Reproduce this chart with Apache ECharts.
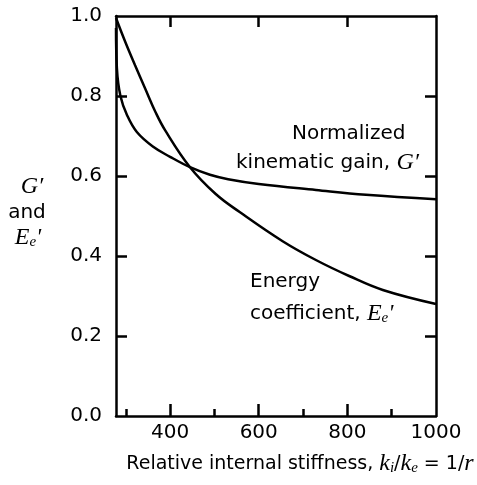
<!DOCTYPE html>
<html>
<head>
<meta charset="utf-8">
<script src="https://cdn.jsdelivr.net/npm/echarts@6/dist/echarts.min.js"></script>
<style>
  html, body { margin: 0; background: #fff; }
  #chart { width: 477px; height: 485px; }
</style>
</head>
<body>
<div id="chart"></div>
<script>
// normalized kinematic gain G'
const gainX = [278, 280, 288, 303, 325, 362, 400, 445, 490, 531, 600, 729, 842, 1000];
const gainY = [0.97, 0.87, 0.80, 0.752, 0.71, 0.673, 0.648, 0.622, 0.603, 0.592, 0.580, 0.565, 0.553, 0.542];

// energy coefficient Ee'
const energyX = [278, 299, 321, 344, 367, 389, 445, 503, 557, 654, 729, 804, 880, 1000];
const energyY = [0.995, 0.935, 0.877, 0.818, 0.76, 0.714, 0.622, 0.555, 0.51, 0.437, 0.39, 0.350, 0.315, 0.28];

// ticks
const xLabels = [400, 600, 800, 1000];
const xMajor = [400, 600, 800];
const xMinor = [300, 500, 700, 900];
const yInner = [0.2, 0.4, 0.6, 0.8];

const sans = 'DejaVu Sans';
const serif = 'Liberation Serif';
const black = { color: '#000', width: 2.5 };
const pair = (xs, ys) => xs.map((x, i) => [x, ys[i]]);

const chart = echarts.init(document.getElementById('chart'));

const xBase = { type: 'value', min: 278, max: 1000, splitLine: { show: false } };
const yBase = { type: 'value', min: 0, max: 1, interval: 0.2, splitLine: { show: false } };

const italic = { fontFamily: serif, fontStyle: 'italic', fontSize: 24 };
const sub = { fontFamily: serif, fontStyle: 'italic', fontSize: 15, verticalAlign: 'bottom', padding: [9, 0, 0, 0] };
const txt = (extra) => Object.assign({ fontFamily: sans, fontSize: 20, fill: '#000', verticalAlign: 'middle' }, extra);

chart.setOption({
  animation: false,
  grid: { left: 116, right: 41, top: 16, bottom: 69 },
  xAxis: [
    Object.assign({}, xBase, {
      position: 'bottom',
      axisLine: { show: true, lineStyle: black },
      axisTick: { show: true, inside: true, length: 12, customValues: xMajor, lineStyle: black },
      axisLabel: { customValues: xLabels, color: '#000', fontFamily: sans, fontSize: 20, margin: 7, formatter: v => String(v) }
    }),
    Object.assign({}, xBase, {
      position: 'bottom',
      axisLine: { show: false },
      axisTick: { show: true, inside: true, length: 7, customValues: xMinor, lineStyle: black },
      axisLabel: { show: false }
    }),
    Object.assign({}, xBase, {
      position: 'top',
      axisLine: { show: true, lineStyle: black },
      axisTick: { show: true, inside: true, length: 11, customValues: xMajor, lineStyle: black },
      axisLabel: { show: false }
    })
  ],
  yAxis: [
    Object.assign({}, yBase, {
      position: 'left',
      axisLine: { show: true, lineStyle: black },
      axisTick: { show: true, inside: true, length: 11, customValues: yInner, lineStyle: black },
      axisLabel: { color: '#000', fontFamily: sans, fontSize: 20, margin: 14, formatter: v => v.toFixed(1) }
    }),
    Object.assign({}, yBase, {
      position: 'right',
      axisLine: { show: true, lineStyle: black },
      axisTick: { show: true, inside: true, length: 11, customValues: yInner, lineStyle: black },
      axisLabel: { show: false }
    })
  ],
  series: [
    {
      name: 'G',
      type: 'line',
      data: pair(gainX, gainY),
      showSymbol: false,
      smooth: 0.4,
      lineStyle: black
    },
    {
      name: 'Ee',
      type: 'line',
      data: pair(energyX, energyY),
      showSymbol: false,
      smooth: 0.4,
      lineStyle: black
    }
  ],
  graphic: [
    // curve labels
    { type: 'text', x: 292, y: 134, style: txt({ text: 'Normalized' }) },
    { type: 'text', x: 236, y: 163, style: txt({ text: 'kinematic gain, {it|G′}', rich: { it: italic } }) },
    { type: 'text', x: 250, y: 282, style: txt({ text: 'Energy' }) },
    { type: 'text', x: 250, y: 314, style: txt({ text: 'coefficient, {it|E}{sub|e}{it|\'}', rich: { it: italic, sub: sub } }) },
    // y title
    { type: 'text', x: 32, y: 187, style: txt({ text: '{it|G′}', align: 'center', rich: { it: italic } }) },
    { type: 'text', x: 27, y: 213, style: txt({ text: 'and', align: 'center' }) },
    { type: 'text', x: 28, y: 238, style: txt({ text: '{it|E}{sub|e}{it|\'}', align: 'center', rich: { it: italic, sub: sub } }) },
    // x title
    { type: 'text', x: 300, y: 464, style: txt({ text: 'Relative internal stiffness, {it|k}{sub|i}/{it|k}{sub|e} = 1/{it|r}', fontSize: 19, align: 'center', rich: { it: italic, sub: sub } }) }
  ]
});
</script>
</body>
</html>
